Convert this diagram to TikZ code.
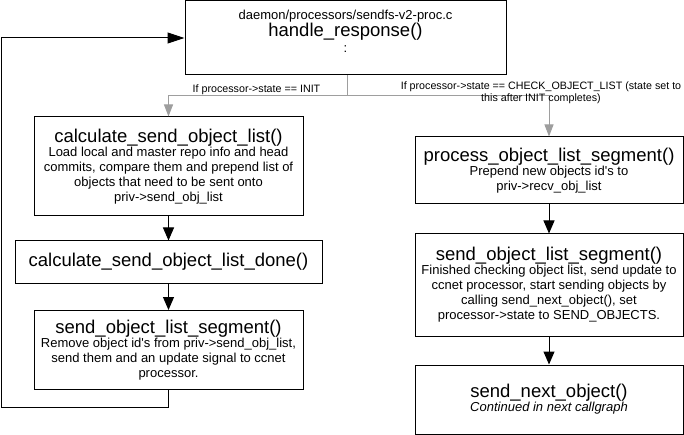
\documentclass[tikz,border=0pt]{standalone}
\usepackage{fontspec}
\setmainfont{Liberation Sans}
\usetikzlibrary{arrows.meta}
\newcommand{\ttl}[1]{{\fontsize{18.5}{15}\selectfont #1}}
\begin{document}
\begin{tikzpicture}[x=1pt,y=-1pt,
  box/.style={draw=black,line width=1pt,fill=white,align=center,inner sep=0pt,
    font=\fontsize{13}{15}\selectfont},
  blk/.style={draw=black,line width=1pt,-{Triangle[width=11pt,length=13pt]}},
  gry/.style={draw=black!38,line width=1pt,-{Triangle[width=9pt,length=12pt]}},
  lbl/.style={font=\fontsize{10.7}{12}\selectfont,align=center,inner sep=0pt}]
\useasboundingbox (0,0) rectangle (684,435);
% boxes
\node[box,minimum width=321,minimum height=74] (hr) at (345.5,38) {};
\node[align=center,inner sep=0pt,font=\fontsize{13}{15}\selectfont] (hrt) at ([yshift=7pt]hr.center)
  {daemon/processors/sendfs-v2-proc.c\\ \ttl{handle\_response()}\\[1pt] :};
\node[box,minimum width=269,minimum height=99] (csl) at (168.5,166.5)
  {\ttl{calculate\_send\_object\_list()}\\[-1pt]Load local and master repo info and head\\commits, compare them and prepend list of\\objects that need to be sent onto\\priv->send\_obj\_list};
\node[box,minimum width=307,minimum height=42] (csld) at (168.5,262)
  {\ttl{calculate\_send\_object\_list\_done()}};
\node[box,minimum width=269,minimum height=79] (sols) at (168.5,350)
  {\ttl{send\_object\_list\_segment()}\\[-1pt]Remove object id\textquotesingle s from priv->send\_obj\_list,\\send them and an update signal to ccnet\\processor.};
\node[box,minimum width=268,minimum height=67] (pol) at (549,170.5)
  {\ttl{process\_object\_list\_segment()}\\[-1pt]Prepend new objects id\textquotesingle s to\\priv->recv\_obj\_list};
\node[box,minimum width=268,minimum height=102] (sors) at (549,285)
  {\ttl{send\_object\_list\_segment()}\\[-1pt]Finished checking object list, send update to\\ccnet processor, start sending objects by\\calling send\_next\_object(), set\\processor->state to SEND\_OBJECTS.};
\node[box,minimum width=268,minimum height=69] (sno) at (549,399.5)
  {\ttl{send\_next\_object()}\\[-1pt] \textit{Continued in next callgraph}};
% gray branches
\coordinate (br) at (347,96);
\draw[gry] ([xshift=1.5pt]hr.south) -- (br) -| (csl.north);
\draw[gry] (br) -| (pol.north);
\node[lbl] (l1) at (256.5,90) {If processor->state == INIT};
\node[lbl] (l2) at (541,93) {If processor->state == CHECK\_OBJECT\_LIST (state set to\\this after INIT completes)};
% black arrows
\draw[blk] (csl.south) -- (csld.north);
\draw[blk] (csld.south) -- (sols.north);
\draw[blk] (pol.south) -- (sors.north);
\draw[blk] (sors.south) -- (sno.north);
\coordinate (fb) at (1,407);
\draw[draw=black,line width=1pt,-{Triangle[width=11pt,length=17pt]}] (sols.south) |- (fb) |- (hr.west);
\end{tikzpicture}
\end{document}
